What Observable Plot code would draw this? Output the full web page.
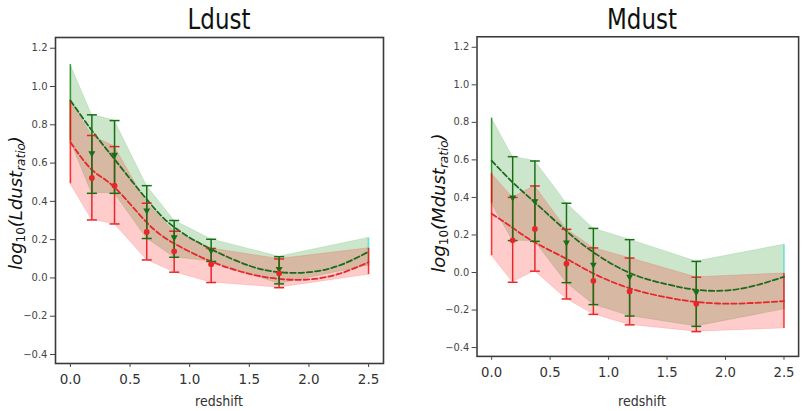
<!DOCTYPE html>
<html>
<head>
<meta charset="utf-8">
<script src="https://cdn.jsdelivr.net/npm/d3@7"></script>
<script src="https://cdn.jsdelivr.net/npm/@observablehq/plot@0.6"></script>
<style>
  html, body { margin: 0; padding: 0; background: #fff; }
  body { width: 804px; height: 411px; overflow: hidden; position: relative; font-family: "DejaVu Sans", sans-serif; }
  .panel { position: absolute; top: 0; }
  .title { position: absolute; top: 6px; font-size: 28px; line-height: 28px; color: #111; white-space: nowrap; transform: translateX(-50%) scaleX(0.82); }
  .xlabel { position: absolute; top: 394px; font-size: 14px; line-height: 14px; color: #333; white-space: nowrap; transform: translateX(-50%) scaleX(0.9); }
  .ylabel { position: absolute; font-size: 18px; line-height: 18px; color: #111; white-space: nowrap; font-style: italic; transform: translate(-50%, -50%) rotate(-90deg); }
  .ylabel sub { font-size: 12px; vertical-align: -3px; }
  .ylabel sub.up { font-style: normal; }
</style>
</head>
<body>
<div id="root"></div>
<script>
// ---- shared axes ----
const xTickValues = [0, 0.5, 1.0, 1.5, 2.0, 2.5];
const yTickValues = [-0.4, -0.2, 0.0, 0.2, 0.4, 0.6, 0.8, 1.0, 1.2];
const panelTitles = ["Ldust", "Mdust"];
const yLabelNames = ["Ldust", "Mdust"];
const xLabelText = "redshift";

// ---- redshift positions ----
const binRedshift = [0.18, 0.37, 0.64, 0.87, 1.18, 1.75];
const bandStartZ = 0.0;
const bandEndZ = 2.5;
const fitRedshift = [0, 0.18, 0.37, 0.64, 0.87, 1.18, 1.5, 1.75, 2.0, 2.25, 2.5];

// ---- Ldust, green series ----
const ldGreenPoint = [0.651, 0.643, 0.352, 0.212, 0.143, 0.047];
const ldGreenLow   = [0.442, 0.442, 0.206, 0.108, 0.086, -0.031];
const ldGreenHigh  = [0.852, 0.822, 0.482, 0.300, 0.202, 0.111];
const ldGreenBandStart = [0.717, 1.114];
const ldGreenBandEnd   = [0.064, 0.209];
const ldGreenFit = [0.927, 0.770, 0.620, 0.410, 0.265, 0.150, 0.064, 0.030, 0.030, 0.064, 0.137];

// ---- Ldust, red series ----
const ldRedPoint = [0.522, 0.482, 0.240, 0.139, 0.072, 0.024];
const ldRedLow   = [0.303, 0.282, 0.094, 0.030, -0.024, -0.051];
const ldRedHigh  = [0.744, 0.686, 0.390, 0.244, 0.154, 0.099];
const ldRedBandStart = [0.492, 0.926];
const ldRedBandEnd   = [0.017, 0.155];
const ldRedFit = [0.709, 0.565, 0.473, 0.290, 0.180, 0.086, 0.021, -0.005, -0.008, 0.021, 0.082];

// ---- Mdust, green series ----
const mdGreenPoint = [0.400, 0.380, 0.160, 0.042, -0.023, -0.105];
const mdGreenLow   = [0.170, 0.166, -0.054, -0.171, -0.232, -0.287];
const mdGreenHigh  = [0.617, 0.594, 0.369, 0.235, 0.175, 0.059];
const mdGreenBandStart = [0.369, 0.822];
const mdGreenBandEnd   = [-0.197, 0.148];
const mdGreenFit = [0.596, 0.480, 0.373, 0.221, 0.108, -0.002, -0.063, -0.092, -0.096, -0.070, -0.023];

// ---- Mdust, red series ----
const mdRedPoint = [0.172, 0.232, 0.047, -0.044, -0.101, -0.166];
const mdRedLow   = [-0.052, 0.007, -0.141, -0.223, -0.279, -0.315];
const mdRedHigh  = [0.400, 0.461, 0.230, 0.131, 0.077, -0.025];
const mdRedBandStart = [0.090, 0.526];
const mdRedBandEnd   = [-0.298, -0.005];
const mdRedFit = [0.313, 0.238, 0.160, 0.073, -0.005, -0.084, -0.133, -0.157, -0.166, -0.162, -0.153];

// ---- colours ----
const GREEN = "#008000";
const GREEN_DARK = "#1c6a1c";
const GREEN_BAR = "#157015";
const RED = "#ff0000";
const RED_LINE = "#e8262a";
const CYAN = "#40e0d0";

function rows(point, low, high) {
  return binRedshift.map((z, i) => ({z, v: point[i], lo: low[i], hi: high[i]}));
}
function band(low, high, start, end) {
  return [{z: bandStartZ, lo: start[0], hi: start[1]}]
    .concat(binRedshift.map((z, i) => ({z, lo: low[i], hi: high[i]})))
    .concat([{z: bandEndZ, lo: end[0], hi: end[1]}]);
}
function fit(values) {
  return fitRedshift.map((z, i) => ({z, v: values[i]}));
}

const capSymbol = {
  draw(ctx, size) {
    const r = Math.sqrt(size / Math.PI);
    ctx.moveTo(-r, 0);
    ctx.lineTo(r, 0);
  }
};

function seriesMarks(s) {
  const b = s.band;
  return [
    Plot.areaY(b, {x: "z", y1: "lo", y2: "hi", fill: s.fill, fillOpacity: 0.2, stroke: s.fill, strokeOpacity: 0.12, strokeWidth: 1}),
    Plot.ruleX(b.slice(0, 1), {x: "z", y1: "lo", y2: "hi", stroke: s.fill, strokeOpacity: 0.75, strokeWidth: 1.5}),
    Plot.ruleX(b.slice(-1), {x: "z", y1: "lo", y2: "hi", stroke: s.endEdge, strokeOpacity: 0.8, strokeWidth: 1.5})
  ];
}
function lineMarks(s) {
  return [
    Plot.line(s.fit, {x: "z", y: "v", stroke: s.line, strokeWidth: 1.8, strokeDasharray: "5.5,2.8", curve: "natural"})
  ];
}
function barMarks(s) {
  return [
    Plot.ruleX(s.pts, {x: "z", y1: "lo", y2: "hi", stroke: s.bar, strokeWidth: 1.5}),
    Plot.dot(s.pts, {x: "z", y: "hi", symbol: capSymbol, r: 5, fill: "none", stroke: s.bar, strokeWidth: 1.5}),
    Plot.dot(s.pts, {x: "z", y: "lo", symbol: capSymbol, r: 5, fill: "none", stroke: s.bar, strokeWidth: 1.5})
  ];
}
function pointMarks(s) {
  return s.marker === "tri"
    ? [Plot.dot(s.pts, {x: "z", y: "v", symbol: "triangle", rotate: 180, r: 2.6, fill: s.bar, stroke: "none"})]
    : [Plot.dot(s.pts, {x: "z", y: "v", symbol: "circle", r: 2.9, fill: s.bar, stroke: "none"})];
}

function panel(green, red, opts) {
  return Plot.plot({
    width: opts.width,
    height: 411,
    marginLeft: opts.marginLeft,
    marginRight: opts.marginRight,
    marginTop: 37,
    marginBottom: 48,
    style: {fontFamily: '"DejaVu Sans", sans-serif', background: "transparent", overflow: "visible", color: "#333"},
    x: {domain: [-0.125, 2.625]},
    y: {domain: [-0.447, 1.256]},
    marks: [
      ...seriesMarks(green),
      ...seriesMarks(red),
      ...lineMarks(green),
      ...lineMarks(red),
      ...barMarks(red),
      ...barMarks(green),
      ...pointMarks(green),
      ...pointMarks(red),
      Plot.frame({stroke: "#3a3a3a", strokeWidth: 1.6}),
      Plot.axisY({ticks: yTickValues, tickFormat: d3.format(".1f"), tickSize: 5, tickPadding: 3, fontSize: 10, label: null, stroke: "#444", fill: "#444"}),
      Plot.axisX({ticks: xTickValues, tickFormat: d3.format(".1f"), tickSize: 4, tickPadding: 7, fontSize: 13.5, label: null, stroke: "#444", fill: "#333"})
    ]
  });
}

const ldGreen = {band: band(ldGreenLow, ldGreenHigh, ldGreenBandStart, ldGreenBandEnd), pts: rows(ldGreenPoint, ldGreenLow, ldGreenHigh), fit: fit(ldGreenFit), fill: GREEN, endEdge: CYAN, line: GREEN_DARK, bar: GREEN_BAR, marker: "tri"};
const ldRed = {band: band(ldRedLow, ldRedHigh, ldRedBandStart, ldRedBandEnd), pts: rows(ldRedPoint, ldRedLow, ldRedHigh), fit: fit(ldRedFit), fill: RED, endEdge: RED, line: RED_LINE, bar: RED_LINE, marker: "dot"};
const mdGreen = {band: band(mdGreenLow, mdGreenHigh, mdGreenBandStart, mdGreenBandEnd), pts: rows(mdGreenPoint, mdGreenLow, mdGreenHigh), fit: fit(mdGreenFit), fill: GREEN, endEdge: CYAN, line: GREEN_DARK, bar: GREEN_BAR, marker: "tri"};
const mdRed = {band: band(mdRedLow, mdRedHigh, mdRedBandStart, mdRedBandEnd), pts: rows(mdRedPoint, mdRedLow, mdRedHigh), fit: fit(mdRedFit), fill: RED, endEdge: RED, line: RED_LINE, bar: RED_LINE, marker: "dot"};

const root = document.getElementById("root");
const layouts = [
  {left: 0, width: 402, marginLeft: 55, marginRight: 19, center: 219, ylabelX: 18},
  {left: 402, width: 410, marginLeft: 76, marginRight: 6, center: 642, ylabelX: 441}
];
const series = [[ldGreen, ldRed], [mdGreen, mdRed]];

layouts.forEach((L, i) => {
  const wrap = document.createElement("div");
  wrap.className = "panel";
  wrap.style.left = L.left + "px";
  wrap.appendChild(panel(series[i][0], series[i][1], L));
  root.appendChild(wrap);

  const t = document.createElement("div");
  t.className = "title";
  t.style.left = L.center + "px";
  t.textContent = panelTitles[i];
  root.appendChild(t);

  const xl = document.createElement("div");
  xl.className = "xlabel";
  xl.style.left = L.center + "px";
  xl.textContent = xLabelText;
  root.appendChild(xl);

  const yl = document.createElement("div");
  yl.className = "ylabel";
  yl.style.left = L.ylabelX + "px";
  yl.style.top = "203px";
  yl.innerHTML = 'log<sub class="up">10</sub>(' + yLabelNames[i] + '<sub>ratio</sub>)';
  root.appendChild(yl);
});
</script>
</body>
</html>
